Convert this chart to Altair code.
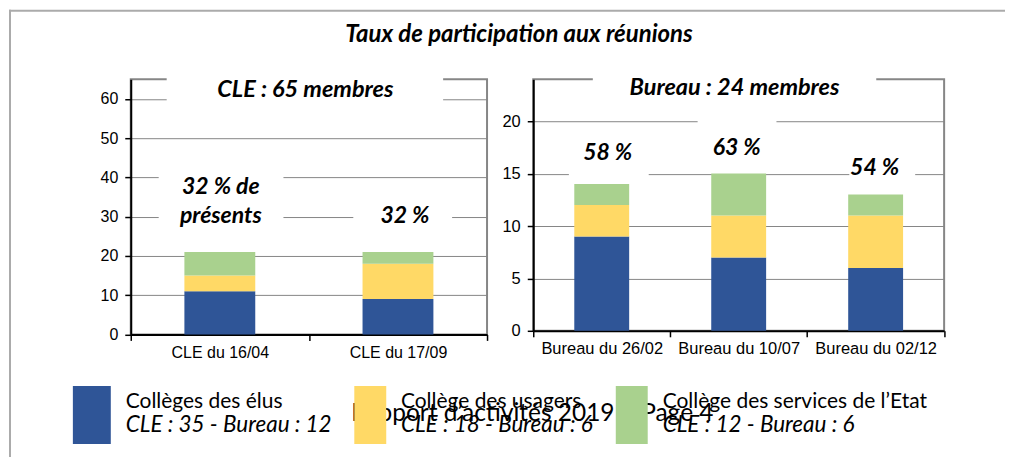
import altair as alt
import pandas as pd

# ---------------- data ----------------
TITLE = "Taux de participation aux réunions"
SERIES = ["Collèges des élus", "Collège des usagers", "Collège des services de l’Etat"]
SERIES_SUB = ["CLE : 35 - Bureau : 12", "CLE : 18 - Bureau : 6", "CLE : 12 - Bureau : 6"]
COLORS = ["#2F5597", "#FFD966", "#A9D18E"]

CLE_CATS = ["CLE du 16/04", "CLE du 17/09"]
CLE_ELUS = [11, 9]
CLE_USAGERS = [4, 9]
CLE_ETAT = [6, 3]
CLE_MEMBERS = 65
CLE_TICKS = [0, 10, 20, 30, 40, 50, 60]
CLE_HEADER = "CLE : 65 membres"
CLE_LABELS = ["32 % de", "présents", "32 %"]
CLE_LABEL_CATS = ["CLE du 16/04", "CLE du 16/04", "CLE du 17/09"]

BUR_CATS = ["Bureau du 26/02", "Bureau du 10/07", "Bureau du 02/12"]
BUR_ELUS = [9, 7, 6]
BUR_USAGERS = [3, 4, 5]
BUR_ETAT = [2, 4, 2]
BUR_MEMBERS = 24
BUR_TICKS = [0, 5, 10, 15, 20]
BUR_HEADER = "Bureau : 24 membres"
BUR_LABELS = ["58 %", "63 %", "54 %"]
BUR_LABEL_CATS = BUR_CATS

FOOTER = "Rapport d’activités 2019 – Page 4"

# ---------------- layout / style ----------------
AXIS_FONT = "Liberation Sans"
TXT_FONT = "Lato"
GRID = "#868686"


def long_df(cats, series_vals):
    rows = []
    for i, c in enumerate(cats):
        for k, s in enumerate(SERIES):
            rows.append({"cat": c, "series": s, "order": k, "value": series_vals[k][i]})
    return pd.DataFrame(rows)


color_enc = alt.Color("series:N", scale=alt.Scale(domain=SERIES, range=COLORS), legend=None)


def panel(df, cats, ymax, ticks, width, height, bar_size, label_size,
          header, header_x, header_y, labels, label_cats, label_y, label_dx, masks, extra=()):
    xs = alt.Scale(domain=cats, paddingInner=0, paddingOuter=0)
    ys = alt.Scale(domain=[0, ymax], nice=False, zero=True)

    bars = alt.Chart(df).mark_bar(size=bar_size).encode(
        x=alt.X("cat:N", sort=cats, scale=xs, title=None,
                axis=alt.Axis(tickBand="extent", domainColor="black", domainWidth=2,
                              tickColor="black", tickSize=6, tickWidth=1.5,
                              labelPadding=4, labelAngle=0,
                              labelFont=AXIS_FONT, labelFontSize=label_size, labelColor="black",
                              grid=False)),
        y=alt.Y("value:Q", stack="zero", scale=ys, title=None,
                axis=alt.Axis(values=ticks, grid=True, gridColor=GRID, gridWidth=1,
                              domainColor="black", domainWidth=2, tickColor="black",
                              tickSize=6, tickWidth=1.5, labelPadding=7,
                              labelFont=AXIS_FONT, labelFontSize=label_size, labelColor="black")),
        color=color_enc,
        order=alt.Order("order:Q"),
    )

    # white boxes behind the annotations (hide gridlines and frame, as in the original)
    mask_layers = [
        alt.Chart(pd.DataFrame({"ya": [m[2]], "yb": [m[3]]})).mark_rect(color="white").encode(
            x=alt.value(m[0]), x2=alt.value(m[1]),
            y=alt.Y("ya:Q", title=None), y2="yb:Q")
        for m in masks
    ]

    head = alt.Chart(pd.DataFrame({"t": [header], "y": [header_y]})).mark_text(
        font=TXT_FONT, fontSize=23.5, fontWeight="bold", fontStyle="italic",
        align="center", baseline="alphabetic", color="black").encode(
        x=alt.value(header_x), y=alt.Y("y:Q", title=None), text="t:N")

    lab_df = pd.DataFrame({"t": labels, "cat": label_cats, "y": label_y})
    lab_layers = [
        alt.Chart(lab_df.iloc[[i]]).mark_text(
            font=TXT_FONT, fontSize=23, fontWeight="bold", fontStyle="italic",
            align="center", baseline="alphabetic", color="black", dx=label_dx[i]).encode(
            x=alt.X("cat:N", sort=cats, title=None), y=alt.Y("y:Q", title=None), text="t:N")
        for i in range(len(labels))
    ]

    return alt.layer(*extra, bars, *mask_layers, head, *lab_layers).properties(
        width=width, height=height)


one = pd.DataFrame({"a": [0]})

# decorations, positioned in pixels relative to the left plot area
frame_top = alt.Chart(one).mark_rect(color="#ababab").encode(
    x=alt.value(-122), x2=alt.value(876), y=alt.value(-69.7), y2=alt.value(-67.7))
frame_left = alt.Chart(one).mark_rect(color="#ababab").encode(
    x=alt.value(-122), x2=alt.value(-120), y=alt.value(-69.7), y2=alt.value(379.3))

title = alt.Chart(one).mark_text(
    font=TXT_FONT, fontSize=24, fontWeight="bold", fontStyle="italic",
    align="center", baseline="alphabetic", color="black").encode(
    x=alt.value(389), y=alt.value(-37), text=alt.value(TITLE))

footer = alt.Chart(one).mark_text(
    font=TXT_FONT, fontSize=24.5, align="left", baseline="alphabetic", color="black").encode(
    x=alt.value(221), y=alt.value(342.3), text=alt.value(FOOTER))

SQ = [(-58, -20), (224, 256), (486, 518)]
TX = [-5, 270.7, 533]
legend_layers = []
for k in range(3):
    legend_layers.append(alt.Chart(one).mark_rect(color=COLORS[k]).encode(
        x=alt.value(SQ[k][0]), x2=alt.value(SQ[k][1]), y=alt.value(307.3), y2=alt.value(365.3)))
for k in range(3):
    legend_layers.append(alt.Chart(one).mark_text(
        font=TXT_FONT, fontSize=21, align="left", baseline="alphabetic", color="black").encode(
        x=alt.value(TX[k]), y=alt.value(329.6), text=alt.value(SERIES[k])))
    legend_layers.append(alt.Chart(one).mark_text(
        font=TXT_FONT, fontSize=22.5, fontStyle="italic", align="left", baseline="alphabetic",
        color="black").encode(
        x=alt.value(TX[k]), y=alt.value(353), text=alt.value(SERIES_SUB[k])))

deco = [frame_top, frame_left, title, footer] + legend_layers

left = panel(long_df(CLE_CATS, [CLE_ELUS, CLE_USAGERS, CLE_ETAT]), CLE_CATS, CLE_MEMBERS, CLE_TICKS,
             width=357, height=255.6, bar_size=71, label_size=16,
             header=CLE_HEADER, header_x=175, header_y=60.6,
             labels=CLE_LABELS, label_cats=CLE_LABEL_CATS, label_y=[35.7, 28.4, 28.4],
             label_dx=[1, 1, 7],
             masks=[(36, 313, 66.9, 58.3), (28, 153, 42.8, 25.8), (223, 322, 33.9, 23.7)],
             extra=deco)

right = panel(long_df(BUR_CATS, [BUR_ELUS, BUR_USAGERS, BUR_ETAT]), BUR_CATS, BUR_MEMBERS, BUR_TICKS,
              width=411.7, height=252, bar_size=55, label_size=16.5,
              header=BUR_HEADER, header_x=201.7, header_y=22.5,
              labels=BUR_LABELS, label_cats=BUR_LABEL_CATS, label_y=[16.3, 16.8, 14.9],
              label_dx=[6, -2, -1],
              masks=[(59.7, 343.7, 24.7, 21.5), (35.7, 115.7, 19.0, 14.3),
                     (164.7, 243.7, 20.7, 15.4), (316.7, 382.7, 17.1, 13.3)])

chart = alt.hconcat(left, right, spacing=46.3, bounds="flush").properties(
    padding=0
).configure_view(stroke=GRID, strokeWidth=2)

chart.save("out.html", embed_options={"renderer": "svg", "actions": False})
